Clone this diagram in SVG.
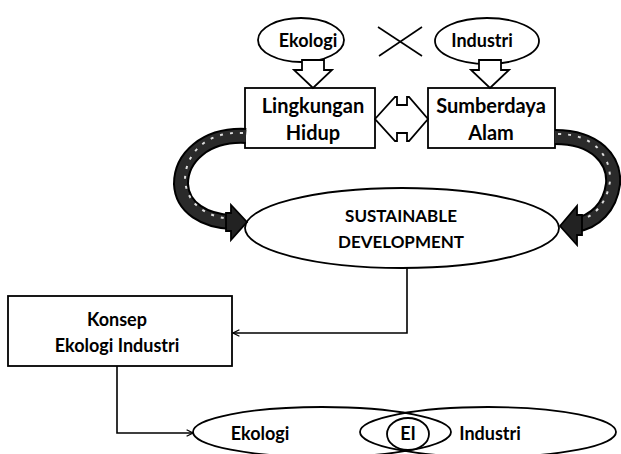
<svg xmlns="http://www.w3.org/2000/svg" width="621" height="454" viewBox="0 0 621 454">
  <defs>
    <marker id="open-arrow" viewBox="0 0 10 10" refX="9" refY="5" markerWidth="8" markerHeight="8" orient="auto" markerUnits="userSpaceOnUse">
      <path d="M1,1 L9,5 L1,9" fill="none" stroke="#000" stroke-width="1.6"/>
    </marker>
  </defs>
  <style>
    .shape { fill: #fff; stroke: #000; stroke-width: 1.8; }
    .outline { fill: none; stroke: #000; stroke-width: 1.8; }
    .label { font-family: "Lato", "Open Sans", "Liberation Sans", sans-serif; font-size: 18px; font-weight: bold; fill: #000; text-anchor: middle; }
    .box-label { font-size: 20px; }
    .sd-label { font-size: 17px; }
    .line { fill: none; stroke: #000; stroke-width: 1.6; }
    .ribbon-edge { fill: none; stroke: #000; stroke-width: 16; }
    .ribbon-body { fill: none; stroke: #2a2a2a; stroke-width: 12; }
    .ribbon-fleck { fill: none; stroke: #ddd; stroke-width: 2; stroke-dasharray: 3 7; }
    .ribbon-head { fill: #222; stroke: #000; stroke-width: 1.8; stroke-linejoin: miter; }
  </style>

  <rect width="621" height="454" fill="#fff"/>

  <!-- top pair: Ekologi and Industri -->
  <g id="ekologi-top">
    <ellipse class="shape" cx="301" cy="40" rx="43" ry="22"/>
    <text class="label" x="308" y="47">Ekologi</text>
  </g>
  <g id="industri-top">
    <ellipse class="shape" cx="487" cy="41" rx="52" ry="23"/>
    <text class="label" x="482" y="47">Industri</text>
  </g>
  <g id="versus-cross">
    <line class="line" x1="378" y1="27" x2="422" y2="56" stroke-width="2.2"/>
    <line class="line" x1="422" y1="27" x2="379" y2="56" stroke-width="2.2"/>
  </g>

  <!-- boxes -->
  <g id="lingkungan-hidup">
    <rect class="shape" x="245" y="88" width="130" height="60"/>
    <text class="label box-label" x="313" y="113">Lingkungan</text>
    <text class="label box-label" x="313" y="140">Hidup</text>
  </g>
  <g id="sumberdaya-alam">
    <rect class="shape" x="428" y="88" width="127" height="60"/>
    <text class="label box-label" x="491" y="113">Sumberdaya</text>
    <text class="label box-label" x="491" y="140">Alam</text>
  </g>

  <g id="sustainable-development">
    <ellipse class="shape" cx="402" cy="228" rx="157" ry="40"/>
    <text class="label sd-label" x="401" y="222">SUSTAINABLE</text>
    <text class="label sd-label" x="401" y="248">DEVELOPMENT</text>
  </g>

  <g id="konsep-ekologi-industri">
    <rect class="shape" x="8" y="296" width="224" height="70"/>
    <text class="label" x="117" y="326">Konsep</text>
    <text class="label" x="117" y="352">Ekologi Industri</text>
  </g>

  <!-- overlapping fields at the bottom -->
  <g id="ekologi-bottom">
    <ellipse class="outline" cx="322" cy="432" rx="129" ry="25"/>
    <text class="label" x="260" y="440">Ekologi</text>
  </g>
  <g id="industri-bottom">
    <ellipse class="outline" cx="488" cy="432" rx="128" ry="25"/>
    <text class="label" x="490" y="440">Industri</text>
  </g>
  <g id="ei">
    <ellipse class="shape" cx="408" cy="434" rx="21" ry="16"/>
    <text class="label" x="408" y="440">EI</text>
  </g>

  <g id="connectors">
    <!-- block arrows from the top ellipses into the boxes -->
    <path class="shape" d="M302,60 L324,60 L324,70 L332,70 L313,88 L294,70 L302,70 Z"/>
    <path class="shape" d="M479,60 L501,60 L501,70 L509,70 L490,88 L471,70 L479,70 Z"/>

    <!-- two-way block arrow between the boxes -->
    <path class="shape" d="M375,119 L395,97 L397,97 L397,105 L407,105 L407,97 L409,97 L428,119 L409,141 L407,141 L407,133 L397,133 L397,141 L395,141 Z"/>

    <!-- curved ribbons feeding sustainable development -->
    <path class="ribbon-edge" d="M246,136 C205,134 181,158 181,184 C182,208 205,221 232,222"/>
    <path class="ribbon-body" d="M246,136 C205,134 181,158 181,184 C182,208 205,221 232,222"/>
    <path class="ribbon-fleck" d="M243,133 C205,131 185,155 185,180 C187,204 205,216 230,219"/>
    <path class="ribbon-head" d="M247,222 L231,205 L231,213 L226,213 L226,231 L231,231 L231,240 Z"/>

    <path class="ribbon-edge" d="M555,137 C596,137 615,160 613,184 C610,207 595,222 575,225"/>
    <path class="ribbon-body" d="M555,137 C596,137 615,160 613,184 C610,207 595,222 575,225"/>
    <path class="ribbon-fleck" d="M558,134 C594,134 611,156 610,181 C607,203 594,218 576,221"/>
    <path class="ribbon-head" d="M560,226 L577,206 L577,215 L582,215 L582,235 L577,235 L577,245 Z"/>

    <!-- elbow connectors -->
    <path class="line" d="M407,268 L407,333 L233,333" marker-end="url(#open-arrow)"/>
    <path class="line" d="M117,366 L117,433 L193,433" marker-end="url(#open-arrow)"/>
  </g>
</svg>
